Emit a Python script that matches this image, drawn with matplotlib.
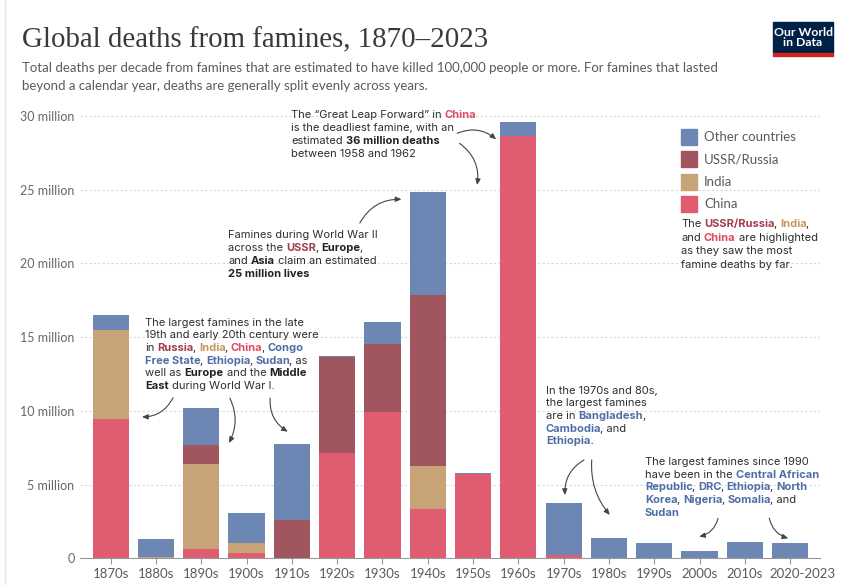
import re
import matplotlib
matplotlib.use('Agg')
import matplotlib.pyplot as plt
import numpy as np
from matplotlib.patches import Rectangle
from matplotlib.lines import Line2D
from matplotlib.ticker import FuncFormatter
from matplotlib.transforms import ScaledTranslation

# deaths per decade, in millions
decades = ['1870s', '1880s', '1890s', '1900s', '1910s', '1920s', '1930s', '1940s',
           '1950s', '1960s', '1970s', '1980s', '1990s', '2000s', '2010s', '2020-2023']
china = [9.46, 0, 0.62, 0.39, 0, 7.13, 9.93, 3.34, 5.71, 28.64, 0.22, 0, 0, 0, 0, 0]
india = [6.04, 0.12, 5.78, 0.68, 0, 0, 0, 2.95, 0, 0, 0, 0, 0, 0, 0, 0]
ussr = [0, 0, 1.30, 0, 2.60, 6.51, 4.61, 11.57, 0, 0, 0, 0, 0, 0, 0, 0]
other = [1.00, 1.22, 2.50, 1.99, 5.14, 0.09, 1.51, 6.99, 0.09, 0.96, 3.52, 1.37, 1.05, 0.52, 1.12, 1.05]

c_other = '#6d87b4'
c_ussr = '#a0555f'
c_india = '#c8a378'
c_china = '#e05c70'

# text colours for highlighted words
tcol = {'r': '#a23e50', 'i': '#c8975c', 'c': '#df4a62', 'o': '#4f6ea6', 'b': '#222222'}
TXT = '#2e2e2e'

W, H = 843, 585
fig = plt.figure(figsize=(W / 100, H / 100), dpi=100)
renderer = fig.canvas.get_renderer()

ax = fig.add_axes([80 / W, 1 - 558.3 / H, 740 / W, (558.3 - 110) / H])
x = np.arange(len(decades))
bottom = np.zeros(len(decades))
for vals, col in [(china, c_china), (india, c_india), (ussr, c_ussr), (other, c_other)]:
    ax.bar(x, vals, 0.8, bottom=bottom, color=col, zorder=2)
    bottom += np.array(vals)

ax.set_xlim(-0.678, 15.66)
ax.set_ylim(0, 30.41)
ax.set_xticks(x)
ax.set_xticklabels(decades, family='Lato', fontsize=9.5, color='#5b5b5b')
ax.set_yticks(np.arange(0, 31, 5))
ax.yaxis.set_major_formatter(FuncFormatter(lambda v, p: '0' if v == 0 else f'{int(v)} million'))
for lab in ax.get_yticklabels():
    lab.set(family='Lato', fontsize=9, color='#666666')
ax.tick_params(axis='y', length=0, pad=4)
ax.tick_params(axis='x', length=4, color='#999999', width=0.8, pad=3)
# the last label is nudged right in the original so it does not collide
last = ax.get_xticklabels()[-1]
last.set_transform(last.get_transform() + ScaledTranslation(0.12, 0, fig.dpi_scale_trans))
ax.set_axisbelow(True)
ax.yaxis.grid(True, color='#d8d8d8', linestyle=(0, (2, 2)), lw=0.8)
for s in ['top', 'right', 'left']:
    ax.spines[s].set_visible(False)
ax.spines['bottom'].set_color('#999999')
ax.spines['bottom'].set_linewidth(0.8)

# title, subtitle
fig.text(22 / W, 1 - 47 / H, 'Global deaths from famines, 1870–2023', family='Liberation Serif',
         fontsize=20.8, color='#3a3a3a', va='baseline')
sub_kw = dict(family='Lato', fontsize=9.5, color='#5b5b5b', va='baseline')
fig.text(22 / W, 1 - 71.5 / H, 'Total deaths per decade from famines that are estimated to have killed 100,000 people or more. For famines that lasted', **sub_kw)
fig.text(22 / W, 1 - 89.5 / H, 'beyond a calendar year, deaths are generally split evenly across years.', **sub_kw)

# logo
fig.add_artist(Rectangle((773 / W, 1 - 53 / H), 60 / W, 31 / H, transform=fig.transFigure, color='#002147'))
fig.add_artist(Rectangle((773 / W, 1 - 56 / H), 60 / W, 3 / H, transform=fig.transFigure, color='#ce261e'))
fig.text(803 / W, 1 - 37.5 / H, 'Our World\nin Data', family='Lato', fontweight='bold', fontsize=8.8,
         color='white', ha='center', va='center', linespacing=1.0)
fig.add_artist(Line2D([5 / W, 5 / W], [0, 1], color='#e6e6e6', lw=1))


def ext(s, kw):
    t = fig.text(0, 0, s, **kw)
    w = t.get_window_extent(renderer).width
    t.remove()
    return w


def adv(s, kw):
    # advance width of s (spaces included), measured between two dots
    return ext('.' + s + '.', kw) - ext('..', kw)


def lsb(s, kw):
    # left side bearing of s, relative to that of '.'
    return adv(s, kw) - ext(s + '.', kw) + ext('.', kw)


def rich(x0, y0, lines, size=8, lh=12.7, family='Inter'):
    for i, line in enumerate(lines):
        cx = x0
        for p in re.split(r'(\{\w:[^}]*\})', line):
            if not p:
                continue
            m = re.match(r'\{(\w):([^}]*)\}', p)
            if m:
                s, kw = m.group(2), dict(color=tcol[m.group(1)], fontweight='bold')
            else:
                s, kw = p, dict(color=TXT, fontweight='normal')
            kw.update(fontsize=size, family=family)
            core = s.strip(' ')
            lead = s[:len(s) - len(s.lstrip(' '))]
            if s[0] in ',.':
                cx -= 1.2  # tighten punctuation glued to a bold word
            if core:
                px = cx + (adv(lead, kw) if lead else 0) + lsb(core, kw)
                fig.text(px / W, 1 - (y0 + i * lh) / H, core, va='baseline', ha='left', **kw)
            cx += adv(s, kw)


rich(145, 325.5, ['The largest famines in the late',
                  '19th and early 20th century were',
                  'in {r:Russia}, {i:India}, {c:China}, {o:Congo}',
                  '{o:Free State}, {o:Ethiopia}, {o:Sudan}, as',
                  'well as {b:Europe} and the {b:Middle}',
                  '{b:East} during World War I.'])
rich(228, 238.5, ['Famines during World War II',
                  'across the {r:USSR}, {b:Europe},',
                  'and {b:Asia} claim an estimated',
                  '{b:25 million lives}'])
rich(291, 118.5, ['The “Great Leap Forward” in {c:China}',
                  'is the deadliest famine, with an',
                  'estimated {b:36 million deaths}',
                  'between 1958 and 1962'])
rich(546, 393.5, ['In the 1970s and 80s,',
                  'the largest famines',
                  'are in {o:Bangladesh},',
                  '{o:Cambodia}, and',
                  '{o:Ethiopia.}'])
rich(645, 465, ['The largest famines since 1990',
                'have been in the {o:Central African}',
                '{o:Republic}, {o:DRC}, {o:Ethiopia}, {o:North}',
                '{o:Korea}, {o:Nigeria}, {o:Somalia}, and',
                '{o:Sudan}'])

# legend
leg_labels = ['Other countries', 'USSR/Russia', 'India', 'China']
leg_cols = [c_other, c_ussr, c_india, c_china]
for i, (lab, col) in enumerate(zip(leg_labels, leg_cols)):
    yc = 136.7 + i * 22.5
    fig.add_artist(Rectangle((681 / W, 1 - (yc + 8) / H), 16 / W, 16 / H, transform=fig.transFigure, color=col))
    fig.text(704 / W, 1 - yc / H, lab, family='Lato', fontsize=9.5, color='#5b5b5b', va='center')
rich(681, 227, ['The {r:USSR/Russia}, {i:India},',
                'and {c:China} are highlighted',
                'as they saw the most',
                'famine deaths by far.'], lh=13.7)

# arrows (start, tip) in data units
arrows = [((1.375, 10.89), (0.69, 9.59), -0.3),
          ((2.63, 10.87), (2.61, 7.82), -0.25),
          ((3.52, 10.87), (3.91, 8.59), 0.3),
          ((5.50, 22.74), (6.42, 24.35), -0.3),
          ((7.65, 28.83), (8.51, 28.42), -0.3),
          ((7.70, 28.15), (8.09, 25.32), -0.3),
          ((10.45, 6.67), (10.03, 4.29), 0.3),
          ((10.62, 6.67), (11.02, 2.94), 0.2),
          ((13.41, 2.71), (12.99, 1.47), -0.3),
          ((14.54, 2.73), (14.96, 1.36), 0.3)]
for start, tip, rad in arrows:
    ax.annotate('', xy=tip, xytext=start,
                arrowprops=dict(arrowstyle='-|>,head_length=0.35,head_width=0.15', color='#444444',
                                lw=0.8, connectionstyle=f'arc3,rad={rad}', shrinkA=0, shrinkB=0),
                annotation_clip=False, zorder=5)

fig.savefig('out.png', dpi=100)
